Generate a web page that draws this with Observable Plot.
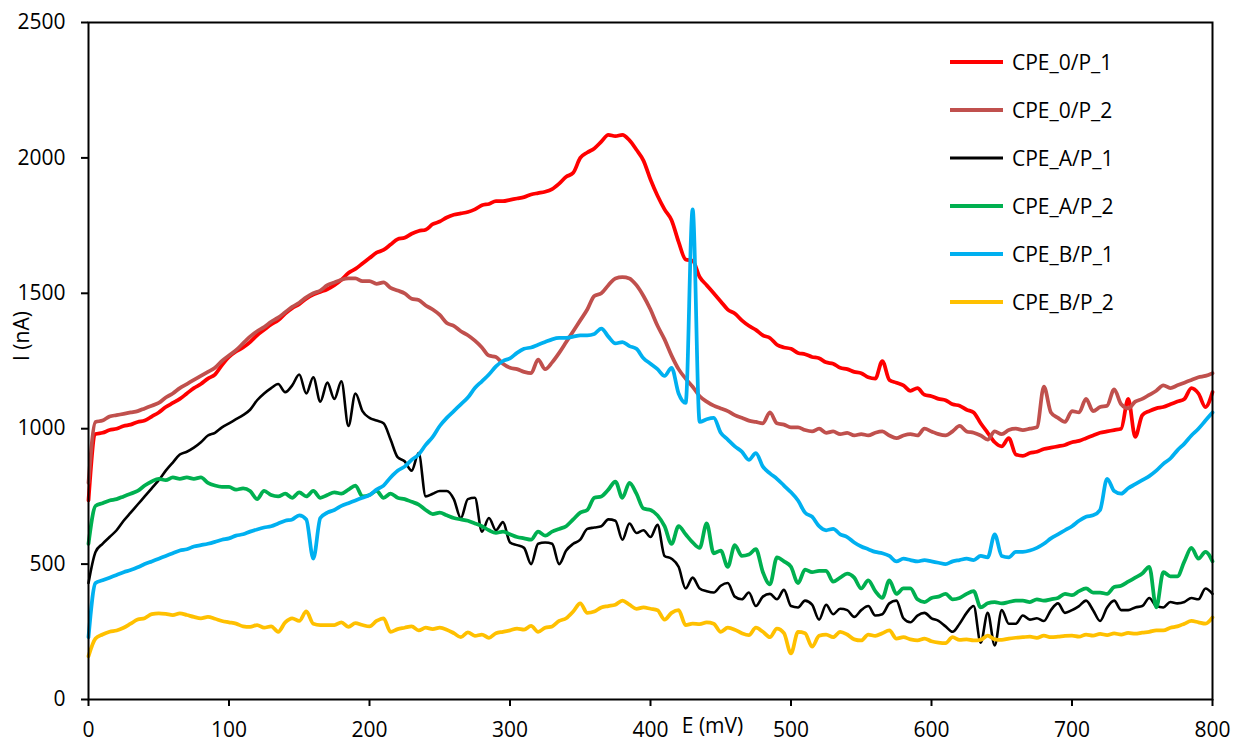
<!DOCTYPE html>
<html>
<head>
<meta charset="utf-8">
<script src="https://cdn.jsdelivr.net/npm/d3@7"></script>
<script src="https://cdn.jsdelivr.net/npm/@observablehq/plot@0.6"></script>
<style>
  body { margin: 0; background: #fff; }
  #wrap { position: relative; width: 1234px; height: 742px; font-family: "Open Sans", sans-serif; }
  #legend { position: absolute; left: 950px; top: 0; }
  .item { position: absolute; left: 0; height: 26px; display: flex; align-items: center; white-space: nowrap; font-size: 21px; color: #000; }
  .item svg { margin-right: 9px; }
</style>
</head>
<body>
<div id="wrap"><div id="legend"></div></div>
<script>
// Potential sweep, 5 mV steps from 0 to 800 mV
const E = d3.range(0, 805, 5);

const seriesNames = ["CPE_0/P_1", "CPE_0/P_2", "CPE_A/P_1", "CPE_A/P_2", "CPE_B/P_1", "CPE_B/P_2"];
const seriesColors = ["#FF0000", "#C0504D", "#000000", "#00B050", "#00B0F0", "#FFC000"];
const seriesWidths = [3.75, 3.75, 2.6, 3.75, 3.75, 3.75];

const xTicks = [0, 100, 200, 300, 400, 500, 600, 700, 800];
const yTicks = [0, 500, 1000, 1500, 2000, 2500];

// Current (nA), one value per potential step
const cpe0p1 = [
  735, 980, 985, 995, 1000, 1010, 1015, 1025, 1030, 1045,
  1060, 1080, 1095, 1110, 1130, 1150, 1165, 1185, 1200, 1235,
  1265, 1285, 1300, 1320, 1345, 1365, 1385, 1400, 1425, 1445,
  1460, 1480, 1495, 1505, 1515, 1530, 1550, 1575, 1590, 1610,
  1630, 1650, 1660, 1680, 1700, 1705, 1720, 1730, 1735, 1755,
  1765, 1780, 1790, 1795, 1800, 1810, 1825, 1830, 1840, 1840,
  1845, 1850, 1855, 1865, 1870, 1875, 1885, 1905, 1930, 1945,
  2000, 2020, 2035, 2060, 2085, 2080, 2085, 2065, 2030, 1990,
  1920, 1860, 1810, 1770, 1690, 1625, 1620, 1560, 1530, 1500,
  1470, 1440, 1425, 1400, 1380, 1365, 1345, 1335, 1310, 1300,
  1295, 1280, 1275, 1265, 1260, 1245, 1240, 1225, 1220, 1210,
  1205, 1190, 1185, 1250, 1180, 1170, 1160, 1140, 1150, 1125,
  1120, 1110, 1105, 1090, 1085, 1070, 1060, 1020, 985, 950,
  935, 965, 905, 900, 910, 915, 925, 930, 935, 940,
  950, 955, 965, 975, 985, 990, 995, 1000, 1110, 970,
  1050, 1065, 1075, 1080, 1090, 1100, 1110, 1150, 1130, 1080,
  1135
];

const cpe0p2 = [
  800, 1025, 1030, 1045, 1050, 1055, 1060, 1065, 1075, 1085,
  1095, 1115, 1130, 1150, 1165, 1180, 1195, 1210, 1225, 1250,
  1270, 1290, 1315, 1340, 1360, 1375, 1395, 1410, 1430, 1450,
  1465, 1485, 1500, 1510, 1530, 1540, 1550, 1555, 1555, 1545,
  1545, 1535, 1540, 1520, 1510, 1500, 1480, 1475, 1455, 1440,
  1420, 1390, 1380, 1360, 1345, 1325, 1300, 1270, 1265, 1240,
  1225, 1220, 1210, 1205, 1255, 1220, 1245, 1280, 1320, 1360,
  1400, 1440, 1490, 1500, 1530, 1555, 1560, 1555, 1530, 1490,
  1440, 1380, 1330, 1270, 1220, 1185, 1155, 1120, 1100, 1085,
  1075, 1065, 1050, 1040, 1030, 1025, 1020, 1060, 1020, 1015,
  1005, 1005, 995, 990, 1000, 985, 990, 980, 985, 975,
  980, 975, 985, 990, 975, 965, 975, 980, 975, 1000,
  990, 980, 975, 990, 1010, 990, 985, 975, 960, 990,
  980, 995, 1000, 995, 1000, 1005, 1155, 1060, 1040, 1025,
  1065, 1060, 1110, 1065, 1080, 1085, 1145, 1090, 1075, 1100,
  1110, 1125, 1140, 1160, 1150, 1160, 1170, 1180, 1190, 1195,
  1205
];

const cpeAp1 = [
  430, 545, 575, 600, 625, 660, 690, 720, 750, 780,
  810, 845, 875, 905, 915, 930, 950, 975, 985, 1005,
  1020, 1035, 1050, 1070, 1105, 1130, 1150, 1165, 1135, 1160,
  1200, 1130, 1190, 1100, 1170, 1110, 1175, 1010, 1130, 1065,
  1040, 1030, 1020, 960, 895, 880, 845, 910, 750, 760,
  770, 770, 740, 670, 740, 745, 620, 670, 625, 655,
  580, 570, 560, 500, 575, 580, 575, 500, 550, 575,
  590, 630, 635, 640, 665, 660, 590, 650, 615, 625,
  600, 645, 530, 520, 490, 410, 450, 410, 400, 395,
  420, 430, 380, 370, 395, 345, 380, 390, 370, 405,
  345, 340, 365, 350, 295, 350, 315, 335, 330, 305,
  330, 345, 310, 315, 355, 365, 300, 285, 310, 320,
  300, 290, 270, 250, 280, 320, 345, 210, 320, 200,
  330, 280, 280, 310, 295, 300, 290, 330, 355, 320,
  330, 345, 365, 330, 290, 340, 365, 330, 330, 340,
  345, 375, 345, 340, 360, 355, 360, 375, 370, 410,
  390
];

const cpeAp2 = [
  575, 715, 725, 735, 740, 750, 760, 770, 790, 805,
  815, 810, 820, 815, 820, 815, 820, 800, 790, 785,
  785, 775, 780, 770, 740, 770, 755, 750, 760, 745,
  765, 750, 770, 745, 755, 765, 760, 775, 790, 750,
  755, 770, 745, 760, 745, 740, 730, 720, 700, 685,
  690, 680, 670, 665, 660, 650, 640, 625, 615, 620,
  610, 600, 595, 590, 620, 605, 620, 630, 640, 665,
  690, 700, 745, 750, 775, 805, 745, 800, 760, 705,
  700, 680, 640, 575, 640, 610, 580, 560, 650, 540,
  550, 490, 570, 530, 535, 555, 470, 425, 525, 510,
  490, 430, 480, 470, 475, 475, 435, 450, 465, 450,
  410, 440, 400, 375, 440, 390, 410, 410, 370, 360,
  375, 380, 390, 370, 375, 390, 400, 340, 355, 360,
  355, 360, 365, 365, 360, 370, 365, 370, 375, 390,
  385, 400, 410, 395, 395, 390, 415, 420, 435, 450,
  465, 490, 340, 470, 455, 455, 510, 560, 520, 545,
  510
];

const cpeBp1 = [
  230, 430, 440, 450, 460, 470, 478, 488, 500, 510,
  520, 530, 540, 550, 555, 565, 570, 575, 582, 590,
  595, 605, 610, 620, 628, 635, 640, 650, 660, 665,
  680, 665, 520, 670, 690, 700, 715, 725, 735, 745,
  755, 775, 790, 820, 845, 860, 885, 905, 940, 970,
  1010, 1040, 1065, 1090, 1115, 1150, 1175, 1200, 1230, 1250,
  1260, 1280, 1295, 1300, 1310, 1320, 1330, 1335, 1335, 1340,
  1345, 1345, 1350, 1370, 1340, 1315, 1320, 1305, 1295, 1260,
  1240, 1220, 1195, 1225, 1130, 1095, 1810, 1025, 1035, 1040,
  985, 960, 935, 915, 885, 910, 860, 835, 815, 790,
  765, 735, 690, 675, 640, 625, 630, 610, 600, 580,
  565, 555, 545, 540, 530, 510, 520, 515, 510, 515,
  510, 505, 500, 510, 515, 520, 515, 530, 525, 610,
  530, 525, 545, 545, 550, 560, 575, 595, 610, 625,
  640, 660, 675, 680, 700, 815, 770, 760, 780, 795,
  810, 825, 845, 870, 890, 920, 945, 975, 1000, 1030,
  1060
];

const cpeBp2 = [
  160, 225, 240, 250, 255, 265, 280, 295, 300, 315,
  318, 316, 312, 318, 312, 305, 300, 305, 298, 290,
  285, 280, 270, 268, 275, 265, 270, 250, 285, 300,
  290, 325, 280, 275, 275, 275, 285, 268, 282, 275,
  270, 290, 300, 250, 260, 265, 270, 255, 265, 260,
  265, 258, 245, 230, 248, 235, 240, 228, 245, 250,
  255, 262, 258, 272, 250, 265, 270, 290, 300, 325,
  355, 320, 325, 340, 345, 350, 365, 350, 335, 340,
  335, 330, 295, 320, 330, 275, 280, 278, 285, 280,
  250, 265, 258, 245, 238, 265, 250, 230, 262, 245,
  170, 250, 245, 195, 235, 240, 230, 250, 240, 222,
  218, 240, 235, 245, 255, 225, 230, 222, 218, 225,
  215, 210, 208, 230, 220, 222, 218, 220, 236, 222,
  220, 225, 228, 230, 232, 228, 236, 230, 232, 235,
  236, 232, 240, 236, 242, 238, 244, 240, 246, 243,
  247, 250, 255, 255, 265, 270, 280, 290, 285, 280,
  303
];

const seriesValues = [cpe0p1, cpe0p2, cpeAp1, cpeAp2, cpeBp1, cpeBp2];

const rows = seriesNames.map((name, k) =>
  seriesValues[k].map((v, i) => ({E: E[i], I: v, series: name}))
);

const chart = Plot.plot({
  width: 1234,
  height: 742,
  marginLeft: 88,
  marginRight: 22,
  marginTop: 22,
  marginBottom: 43,
  style: {fontFamily: "'Open Sans', sans-serif", fontSize: "21px", color: "#000", background: "#fff", overflow: "visible"},
  x: {domain: [0, 800]},
  y: {domain: [0, 2500]},
  marks: [
    ...rows.map((data, k) =>
      Plot.line(data, {x: "E", y: "I", stroke: seriesColors[k], strokeWidth: seriesWidths[k], curve: "monotone-x", strokeLinejoin: "round"})
    ),
    Plot.frame({stroke: "#000", strokeWidth: 2}),
    Plot.axisX({ticks: xTicks, tickSize: 7, tickPadding: 16, tickFormat: d => String(d), label: null, strokeWidth: 2, fontSize: 21}),
    Plot.axisY({ticks: yTicks, tickSize: 7, tickPadding: 16, tickFormat: d => String(d), label: null, strokeWidth: 2, fontSize: 21}),
    Plot.text(["E (mV)"], {frameAnchor: "bottom", dx: 62, dy: 33, fontSize: 21}),
    Plot.text(["I (nA)"], {frameAnchor: "left", dx: -66, rotate: -90, fontSize: 21})
  ]
});

document.getElementById("wrap").prepend(chart);

// Legend placed in the upper right corner of the plot area
const legend = document.getElementById("legend");
seriesNames.forEach((name, k) => {
  const item = document.createElement("div");
  item.className = "item";
  item.style.top = (62 + 48 * k - 13) + "px";
  item.innerHTML = `<svg width="53" height="26"><line x1="0" x2="53" y1="13" y2="13" stroke="${seriesColors[k]}" stroke-width="${seriesWidths[k] + 0.25}" stroke-linecap="round"/></svg><span>${name}</span>`;
  legend.appendChild(item);
});
</script>
</body>
</html>
